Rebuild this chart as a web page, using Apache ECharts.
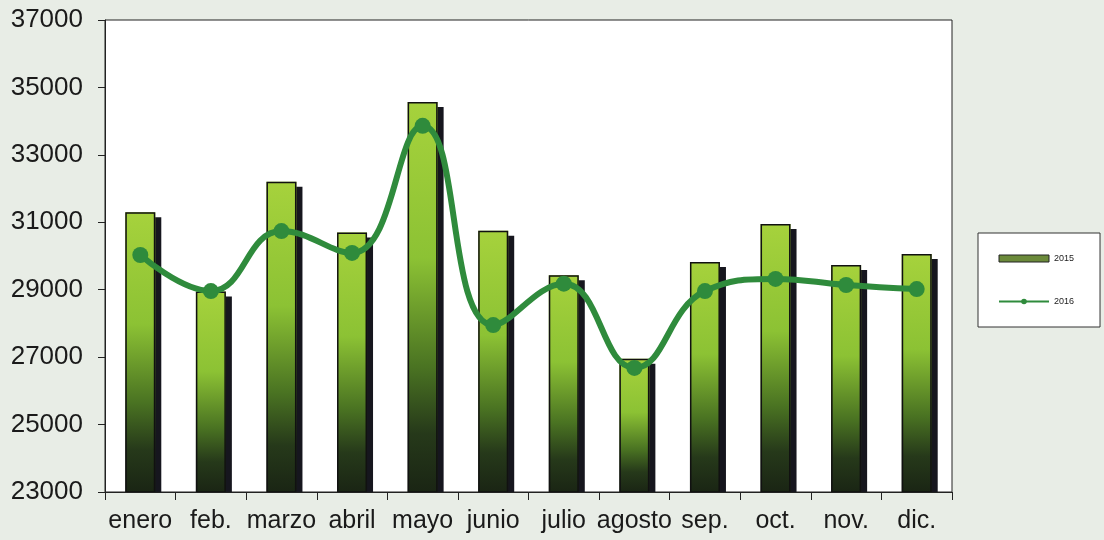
<!DOCTYPE html>
<html>
<head>
<meta charset="utf-8">
<script src="https://cdn.jsdelivr.net/npm/echarts@6/dist/echarts.min.js"></script>
<style>html,body{margin:0;padding:0;background:#e8ede6;}#c{width:1104px;height:540px;}</style>
</head>
<body>
<div id="c"></div>
<script>
var months = ['enero','feb.','marzo','abril','mayo','junio','julio','agosto','sep.','oct.','nov.','dic.'];
var values2015 = [31300, 28950, 32200, 30700, 34570, 30750, 29430, 26950, 29820, 30950, 29730, 30060];
var values2016 = [30030, 28960, 30740, 30090, 33860, 27950, 29180, 26680, 28960, 29320, 29140, 29020];
var yTicks = {min: 23000, max: 37000, interval: 2000};

var GRID = {left: 105, right: 152, top: 20, bottom: 48};
var chart = echarts.init(document.getElementById('c'));
var barGrad = new echarts.graphic.LinearGradient(0, 0, 0, 1, [
  {offset: 0, color: '#a6d23c'},
  {offset: 0.4, color: '#8cc234'},
  {offset: 0.68, color: '#4a7322'},
  {offset: 0.85, color: '#26391a'},
  {offset: 1, color: '#1a2514'}
]);
chart.setOption({
  backgroundColor: '#e8ede6',
  animation: false,
  textStyle: {fontFamily: 'Liberation Sans, Arial, sans-serif'},
  grid: {left: GRID.left, right: GRID.right, top: GRID.top, bottom: GRID.bottom,
         show: true, backgroundColor: '#ffffff', borderColor: '#222', borderWidth: 1},
  legend: {
    orient: 'vertical', left: 978, top: 233,
    padding: [21, 26, 21, 20], itemGap: 34,
    itemWidth: 50, itemHeight: 7,
    backgroundColor: '#ffffff', borderColor: '#333', borderWidth: 1,
    textStyle: {fontSize: 9, color: '#222'},
    data: [
      {name: '2015', icon: 'rect', itemStyle: {color: '#6b8a3a', borderColor: '#222', borderWidth: 1, shadowBlur: 0, shadowOffsetX: 0, shadowOffsetY: 0}},
      {name: '2016'}
    ]
  },
  xAxis: {
    type: 'category', data: months, z: 5,
    axisLine: {show: true, lineStyle: {color: '#222', width: 1}},
    axisTick: {show: true, length: 8, lineStyle: {color: '#222', width: 1}},
    axisLabel: {color: '#1a1a1a', fontSize: 25, margin: 17, interval: 0}
  },
  yAxis: {
    type: 'value', min: yTicks.min, max: yTicks.max, interval: yTicks.interval, z: 5,
    splitLine: {show: false},
    axisLine: {show: true, lineStyle: {color: '#222', width: 1}},
    axisTick: {show: true, length: 7, lineStyle: {color: '#222', width: 1}},
    axisLabel: {color: '#1a1a1a', fontSize: 26, margin: 22, formatter: function (v) { return String(v); }}
  },
  graphic: [{
    type: 'rect', z: 4, silent: true,
    shape: {x: GRID.left - 2, y: 540 - GRID.bottom + 1, width: 1104 - GRID.left - GRID.right + 14, height: 7},
    style: {fill: '#e8ede6'}
  }],
  series: [
    {
      name: '2015', type: 'bar', data: values2015, barWidth: 30, z: 2,
      itemStyle: {color: barGrad, borderWidth: 0,
                  shadowColor: '#16161e', shadowBlur: 0, shadowOffsetX: 6, shadowOffsetY: 5}
    },
    {
      name: '2015', type: 'bar', data: values2015, barWidth: 30, barGap: '-100%', z: 3,
      itemStyle: {color: 'rgba(0,0,0,0)', borderColor: '#111', borderWidth: 1.5}
    },
    {
      name: '2016', type: 'line', data: values2016, smooth: 0.45, z: 6,
      symbol: 'circle', symbolSize: 16,
      lineStyle: {color: '#2f8b3c', width: 6},
      itemStyle: {color: '#2f8b3c'}
    }
  ]
});
</script>
</body>
</html>
